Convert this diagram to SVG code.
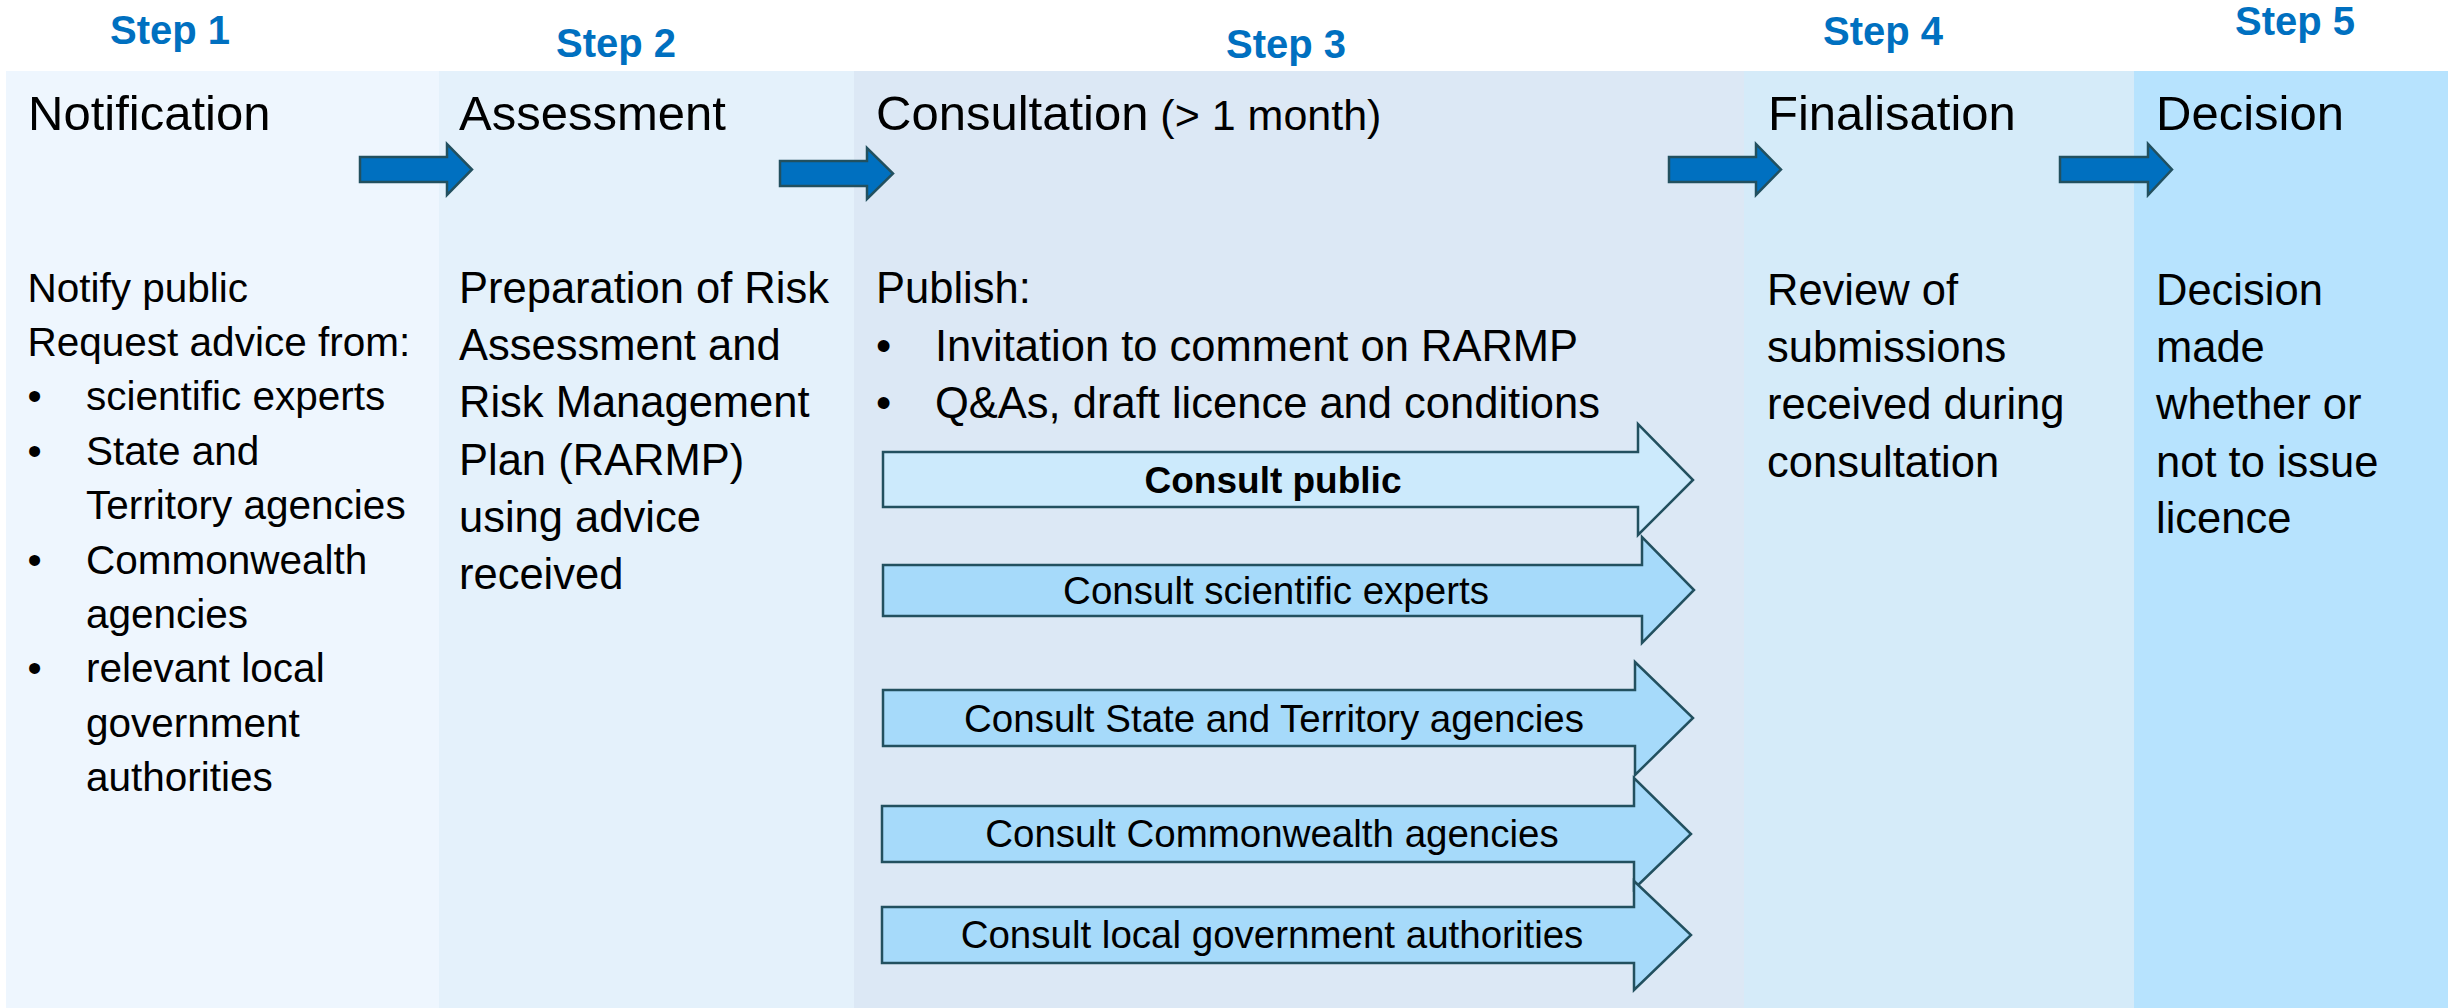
<svg xmlns="http://www.w3.org/2000/svg" width="2448" height="1008" viewBox="0 0 2448 1008">
<style>
  text { font-family: "Liberation Sans", Arial, sans-serif; fill: #000; }
  .step { font-weight: bold; font-size: 40px; fill: #0070C0; text-anchor: middle; }
  .title { font-size: 49px; }
  .sub { font-size: 43px; }
  .body { font-size: 43.5px; }
  .body1 { font-size: 40.5px; }
  .clabel { font-size: 38.5px; text-anchor: middle; }
  .clabel-b { font-size: 37px; font-weight: bold; text-anchor: middle; }
  .blockarrow { fill: #0070C0; stroke: #22505F; stroke-width: 2.5; stroke-linejoin: miter; }
  .consult { fill: #A6DAFA; stroke: #22505F; stroke-width: 2.5; stroke-linejoin: miter; }
  .consult-pub { fill: #CCEAFC; stroke: #22505F; stroke-width: 2.5; stroke-linejoin: miter; }
</style>
<rect width="2448" height="1008" fill="#FFFFFF"/>

<g id="step1">
  <rect x="6" y="71" width="433" height="937" fill="#EEF6FE"/>
  <text class="step" x="170" y="44">Step 1</text>
  <text class="title" x="28" y="130">Notification</text>
  <text class="body1" x="27.5" y="302">Notify public</text>
  <text class="body1" x="27.5" y="356">Request advice from:</text>
  <text class="body1" x="27.5" y="410">•</text><text class="body1" x="86" y="410">scientific experts</text>
  <text class="body1" x="27.5" y="465">•</text><text class="body1" x="86" y="465">State and</text>
  <text class="body1" x="86" y="519">Territory agencies</text>
  <text class="body1" x="27.5" y="574">•</text><text class="body1" x="86" y="574">Commonwealth</text>
  <text class="body1" x="86" y="628">agencies</text>
  <text class="body1" x="27.5" y="682">•</text><text class="body1" x="86" y="682">relevant local</text>
  <text class="body1" x="86" y="737">government</text>
  <text class="body1" x="86" y="791">authorities</text>
</g>

<g id="step2">
  <rect x="439" y="71" width="415" height="937" fill="#E4F1FB"/>
  <text class="step" x="616" y="57">Step 2</text>
  <text class="title" x="459" y="130">Assessment</text>
  <text class="body" x="459" y="303">Preparation of Risk</text>
  <text class="body" x="459" y="360">Assessment and</text>
  <text class="body" x="459" y="417">Risk Management</text>
  <text class="body" x="459" y="475">Plan (RARMP)</text>
  <text class="body" x="459" y="532">using advice</text>
  <text class="body" x="459" y="589">received</text>
</g>

<g id="step3">
  <rect x="854" y="71" width="890" height="937" fill="#DCE8F5"/>
  <text class="step" x="1286" y="58">Step 3</text>
  <text class="title" x="876" y="130">Consultation<tspan class="sub"> (&gt; 1 month)</tspan></text>
  <text class="body" x="876" y="303">Publish:</text>
  <text class="body" x="876" y="361">•</text><text class="body" x="935" y="361">Invitation to comment on RARMP</text>
  <text class="body" x="876" y="418">•</text><text class="body" x="935" y="418">Q&amp;As, draft licence and conditions</text>
</g>

<g id="step4">
  <rect x="1744" y="71" width="390" height="937" fill="#D5EBF9"/>
  <text class="step" x="1883" y="45">Step 4</text>
  <text class="title" x="1768" y="130">Finalisation</text>
  <text class="body" x="1767" y="305">Review of</text>
  <text class="body" x="1767" y="362">submissions</text>
  <text class="body" x="1767" y="419">received during</text>
  <text class="body" x="1767" y="477">consultation</text>
</g>

<g id="step5">
  <rect x="2134" y="71" width="314" height="937" fill="#B7E3FE"/>
  <text class="step" x="2295" y="35">Step 5</text>
  <text class="title" x="2156" y="130">Decision</text>
  <text class="body" x="2156" y="305">Decision</text>
  <text class="body" x="2156" y="362">made</text>
  <text class="body" x="2156" y="419">whether or</text>
  <text class="body" x="2156" y="477">not to issue</text>
  <text class="body" x="2156" y="533">licence</text>
</g>

<g id="consult-public">
  <polygon class="consult-pub" points="883,452 1638,452 1638,424 1693,480 1638,535 1638,507 883,507"/>
  <text class="clabel-b" x="1273" y="493">Consult public</text>
</g>
<g id="consult-scientific">
  <polygon class="consult" points="883,565 1642,565 1642,537 1694,590 1642,643 1642,616 883,616"/>
  <text class="clabel" x="1276" y="604">Consult scientific experts</text>
</g>
<g id="consult-state">
  <polygon class="consult" points="883,690 1635,690 1635,662 1693,718 1635,775 1635,746 883,746"/>
  <text class="clabel" x="1274" y="732">Consult State and Territory agencies</text>
</g>
<g id="consult-commonwealth">
  <polygon class="consult" points="882,806 1634,806 1634,778 1691,834 1634,889 1634,862 882,862"/>
  <text class="clabel" x="1272" y="847">Consult Commonwealth agencies</text>
</g>
<g id="consult-local">
  <polygon class="consult" points="882,907 1634,907 1634,881 1691,935 1634,990 1634,963 882,963"/>
  <text class="clabel" x="1272" y="948">Consult local government authorities</text>
</g>

<g id="connectors">
  <polygon class="blockarrow" points="360,157 447,157 447,144 472,169.5 447,195 447,182 360,182"/>
  <polygon class="blockarrow" points="780,161 867,161 867,148 893,173.5 867,199 867,186 780,186"/>
  <polygon class="blockarrow" points="1669,157 1756,157 1756,144 1781,169.5 1756,195 1756,182 1669,182"/>
  <polygon class="blockarrow" points="2060,157 2148,157 2148,144 2172,169.5 2148,195 2148,182 2060,182"/>
</g>
</svg>
